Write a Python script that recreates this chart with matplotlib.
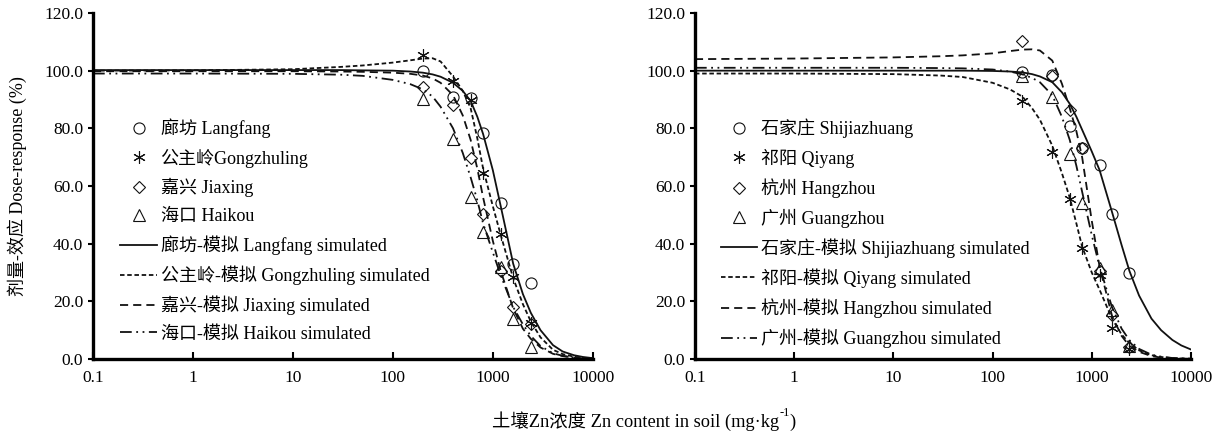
import matplotlib
matplotlib.use("Agg")
import matplotlib.pyplot as plt
from matplotlib.lines import Line2D

plt.rcParams['font.family'] = ['Liberation Serif', 'Noto Sans CJK SC']

# measured doses (mg/kg)
dose = [200, 400, 600, 800, 1200, 1600, 2400]

# left panel observations
langfang = [99.8, 91, 90.4, 78.5, 54.2, 32.8, 26.5]
gongzhuling = [105.5, 96.5, 89.8, 64.5, 43.2, 28.3, 12.6]
jiaxing = [94.3, 88, 69.6, 50.3, 30.6, 18, 12]
haikou = [90.2, 76.4, 56.2, 44, 31.8, 14, 4.3]

# right panel observations
shijiazhuang = [99.6, 98.6, 80.8, 73.3, 67.2, 50.2, 29.7]
qiyang = [89.6, 71.8, 55.6, 38.4, 29, 10.6, 3.6]
hangzhou = [110.4, 98.2, 86.5, 73.3, 30.6, 15.3, 4.3]
guangzhou = [98, 91, 71.2, 54, 31.5, 17, 4.5]

# fitted curves
xs = [0.1, 1, 10, 30, 50, 100, 150, 200, 250, 300, 400, 500, 600, 700, 800,
      1000, 1200, 1600, 2000, 2400, 3000, 4000, 5000, 6500, 8000, 10000]
langfang_sim = [100.2, 100.2, 100.2, 100.2, 100.1, 100, 99.7, 99.3, 98.7, 97.9, 95.8, 93, 89.5, 84,
                78, 65.5, 53, 33, 22.5, 16, 10, 4.8, 2.6, 1.3, 0.7, 0.3]
gongzhuling_sim = [100, 100.1, 100.5, 101.3, 101.8, 102.8, 103.6, 104.2, 104.3, 103.2, 98, 93, 87, 76.5,
                   66, 53, 43, 28, 19, 13, 7.5, 3.2, 1.7, 0.8, 0.4, 0.2]
jiaxing_sim = [99.8, 99.8, 99.8, 99.7, 99.6, 99.3, 98.9, 98.3, 97.3, 95.8, 91.5, 84.5, 76, 66,
               56, 41, 30.5, 17.5, 10.5, 7, 4, 1.8, 1, 0.45, 0.25, 0.1]
haikou_sim = [99, 99, 98.9, 98.6, 98.2, 96.8, 95.3, 93.5, 91, 87.5, 80, 71.5, 63, 55,
              47, 37, 29, 18, 12, 8, 4.5, 2, 1.1, 0.5, 0.25, 0.1]

shijiazhuang_sim = [100, 100, 100, 100, 100, 99.9, 99.7, 99.4, 98.8, 98, 96, 92.5, 88.5, 84,
                    79.5, 72, 65.5, 51, 39.5, 30.5, 22, 14, 10, 6.6, 4.7, 3.3]
qiyang_sim = [99, 99, 98.8, 98.3, 97.8, 95.8, 93.5, 91, 87, 83, 74, 64.5, 56, 47,
              39, 30, 24, 14, 8.5, 5.5, 3, 1.3, 0.7, 0.3, 0.15, 0.1]
hangzhou_sim = [104, 104.2, 104.6, 105, 105.3, 106, 106.8, 107.3, 107.4, 107, 103.5, 95.5, 87, 79,
                70, 48, 32, 15, 8, 4.5, 2.5, 1, 0.5, 0.2, 0.1, 0.05]
guangzhou_sim = [101, 101, 101, 100.9, 100.8, 100.4, 99.7, 98.7, 97.5, 96, 91.5, 84, 76, 67,
                 58, 43, 32, 18, 10.5, 6.5, 3.5, 1.5, 0.8, 0.35, 0.2, 0.1]

xticks = [0.1, 1, 10, 100, 1000, 10000]
xticklabels = ['0.1', '1', '10', '100', '1000', '10000']
yticks = [0, 20, 40, 60, 80, 100, 120]

left_names = ['廊坊 Langfang', '公主岭Gongzhuling', '嘉兴 Jiaxing', '海口 Haikou',
              '廊坊-模拟 Langfang simulated', '公主岭-模拟 Gongzhuling simulated',
              '嘉兴-模拟 Jiaxing simulated', '海口-模拟 Haikou simulated']
right_names = ['石家庄 Shijiazhuang', '祁阳 Qiyang', '杭州 Hangzhou', '广州 Guangzhou',
               '石家庄-模拟 Shijiazhuang simulated', '祁阳-模拟 Qiyang simulated',
               '杭州-模拟 Hangzhou simulated', '广州-模拟 Guangzhou simulated']

asterisk = (6, 2, 0)
markers = ['o', asterisk, 'D', '^']
msizes = [8, 9, 6, 8]
styles = ['-', (0, (2.5, 1.5)), (0, (4.5, 2.8)), (0, (6.5, 2.5, 1, 2.5, 1, 2.5))]
lw = 1.3
k = '#111111'

fig = plt.figure(figsize=(12.25, 4.36), dpi=100)
ax1 = fig.add_axes([0.0759, 0.1766, 0.408, 0.7936])
ax2 = fig.add_axes([0.5673, 0.1766, 0.4049, 0.7936])

panels = [
    (ax1, [langfang, gongzhuling, jiaxing, haikou],
     [langfang_sim, gongzhuling_sim, jiaxing_sim, haikou_sim], left_names, 0.055),
    (ax2, [shijiazhuang, qiyang, hangzhou, guangzhou],
     [shijiazhuang_sim, qiyang_sim, hangzhou_sim, guangzhou_sim], right_names, 0.052),
]

for ax, obs, sims, names, lx in panels:
    for sim, ls in zip(sims, styles):
        ax.plot(xs, sim, color=k, lw=lw, linestyle=ls)
    for ob, m, ms in zip(obs, markers, msizes):
        ax.plot(dose, ob, linestyle='none', marker=m, markersize=ms, markerfacecolor='none',
                markeredgecolor=k, markeredgewidth=0.8)

    ax.set_xscale('log')
    ax.set_xlim(0.1, 10000)
    ax.set_ylim(0, 120)
    ax.set_xticks(xticks)
    ax.set_xticklabels(xticklabels)
    ax.minorticks_off()
    ax.set_yticks(yticks)
    ax.set_yticklabels([f'{v:.1f}' for v in yticks])
    ax.tick_params(axis='x', direction='in', length=5, width=1.5, pad=8, labelsize=12.5)
    ax.tick_params(axis='y', direction='out', length=3.5, width=1.5, pad=3.5, labelsize=12.5)
    for s in ['top', 'right']:
        ax.spines[s].set_visible(False)
    for s in ['left', 'bottom']:
        ax.spines[s].set_linewidth(2.4)

    handles = [Line2D([], [], linestyle='none', marker=m, markersize=ms, markerfacecolor='none',
                      markeredgecolor=k, markeredgewidth=0.8) for m, ms in zip(markers, msizes)]
    handles += [Line2D([], [], color=k, lw=lw, linestyle=ls) for ls in styles]
    ax.legend(handles, names, loc='upper left', bbox_to_anchor=(lx, 0.695), frameon=False,
              fontsize=13, handlelength=2.0, handletextpad=0.22, labelspacing=0.58,
              borderaxespad=0, borderpad=0)

fig.text(0.014, 0.574, '剂量-效应 Dose-response (%)', rotation=90, ha='center', va='center',
         fontsize=13)

# x label: main text, raised "-1", closing bracket
t1 = fig.text(0.4016, 0.021, '土壤Zn浓度 Zn content in soil (mg·kg', ha='left', va='baseline',
              fontsize=13.2)
sup = ax1.annotate('-1', xy=(1, 0.62), xycoords=t1, ha='left', va='bottom', fontsize=9,
                   annotation_clip=False)
ax1.annotate(')', xy=(1, 0), xycoords=(sup, t1), ha='left', va='bottom', fontsize=13.2,
             annotation_clip=False)

fig.savefig('out.png', dpi=100)
